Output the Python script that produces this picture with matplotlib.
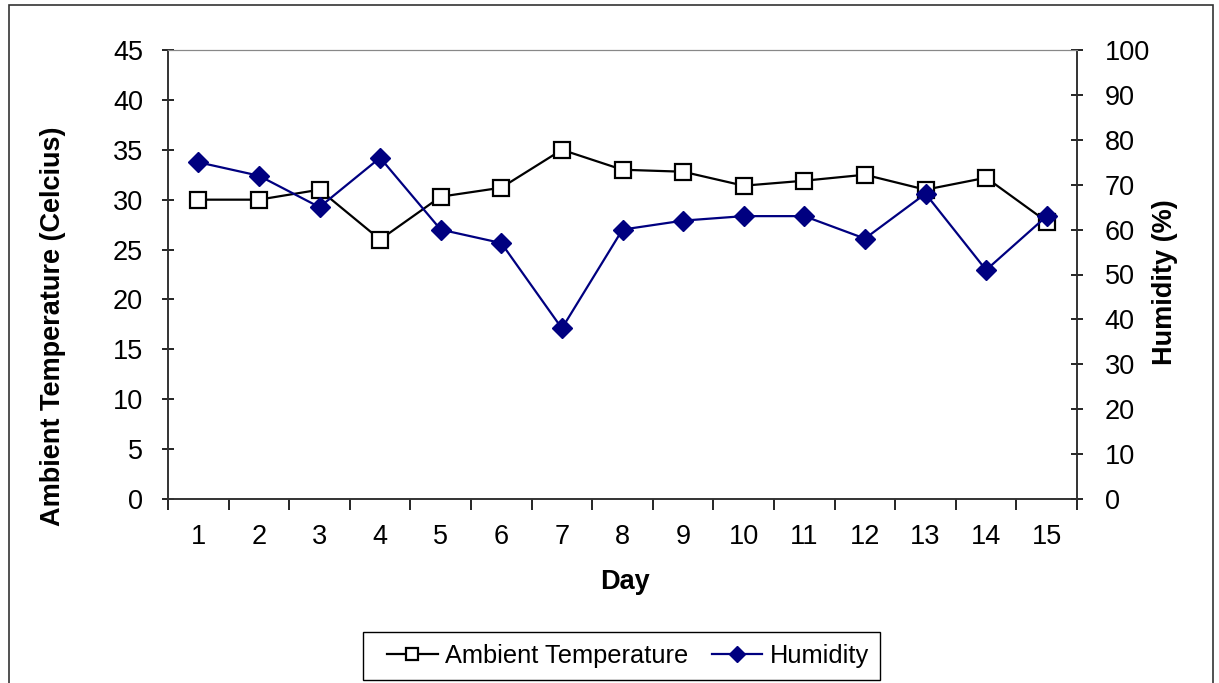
import matplotlib
matplotlib.use("Agg")
import matplotlib.pyplot as plt
from matplotlib.patches import Rectangle
from matplotlib.ticker import FixedLocator, NullFormatter

plt.rcParams['font.family'] = ['Liberation Sans', 'DejaVu Sans']

days = list(range(1, 16))
temperature = [30, 30, 31, 26, 30.3, 31.2, 35, 33, 32.8, 31.4, 31.9, 32.5, 31.0, 32.2, 27.8]
humidity = [75, 72, 65, 76, 60, 57, 38, 60, 62, 63, 63, 58, 68, 51, 63]

left_ticks = list(range(0, 50, 5))
right_ticks = list(range(0, 110, 10))

W, H = 1219, 683
fig = plt.figure(figsize=(W / 100, H / 100), dpi=100)
fig.patch.set_facecolor('white')


def fx(px):
    return px / W


def fy(py):
    return 1 - py / H


# outer chart frame (open at the bottom)
fig.patches.append(Rectangle((fx(9), -0.05), fx(1213) - fx(9), 1.05 - 5 / H,
                             transform=fig.transFigure, fill=False,
                             edgecolor='#333333', linewidth=1.2))

ax = fig.add_axes([fx(168), fy(499), fx(1077) - fx(168), fy(50) - fy(499)])
ax2 = ax.twinx()

fs = 19.5
ax.plot(days, temperature, color='black', linewidth=1.6, marker='s',
        markersize=11.5, markerfacecolor='white', markeredgecolor='black',
        markeredgewidth=1.6, label='Ambient Temperature', zorder=3)
ax2.plot(days, humidity, color='#000080', linewidth=1.6, marker='D',
         markersize=10.5, markerfacecolor='#000080', markeredgecolor='#000080',
         label='Humidity', zorder=3)

ax.set_xlim(0.5, 15.5)
ax.set_ylim(0, 45)
ax2.set_ylim(0, 100)

ax.set_yticks(left_ticks)
ax2.set_yticks(right_ticks)
ax.set_xticks(days)
ax.tick_params(axis='x', which='major', length=0, labelsize=fs, pad=18)
ax.xaxis.set_minor_locator(FixedLocator([d + 0.5 for d in [0] + days]))
ax.xaxis.set_minor_formatter(NullFormatter())
ax.tick_params(axis='x', which='minor', length=8, width=1.2, direction='out')
ax.tick_params(axis='y', length=8, width=1.2, direction='inout', labelsize=fs, pad=14)
ax2.tick_params(axis='y', length=8, width=1.2, direction='inout', labelsize=fs, pad=16)

ax.spines['top'].set_color('#888888')
ax2.spines['top'].set_color('#888888')
for a in (ax, ax2):
    for s in ['left', 'right', 'bottom']:
        a.spines[s].set_linewidth(1.2)
        a.spines[s].set_color('#333333')


# axis titles placed in figure pixels
def fig_text(x, y, s, **kw):
    fig.text(fx(x), fy(y), s, ha='center', va='center',
             fontsize=fs, fontweight='bold', **kw)


fig_text(625, 582, 'Day')
fig_text(53, 326, 'Ambient Temperature (Celcius)', rotation=90)
fig_text(1165, 282, 'Humidity (%)', rotation=90)

# legend entries with a separately drawn box
fig.patches.append(Rectangle((fx(363), fy(680)), fx(880) - fx(363), fy(632) - fy(680),
                             transform=fig.transFigure, fill=False,
                             edgecolor='black', linewidth=1.0))
h1, l1 = ax.get_legend_handles_labels()
h2, l2 = ax2.get_legend_handles_labels()
leg = fig.legend(h1 + h2, l1 + l2, loc='center left', bbox_to_anchor=(fx(387), fy(656)),
                 ncol=2, fontsize=18.3, frameon=False, borderpad=0, borderaxespad=0,
                 handlelength=2.0, handletextpad=0.3, columnspacing=0.9,
                 markerscale=0.8)

fig.savefig('out.png', dpi=100, facecolor='white')
